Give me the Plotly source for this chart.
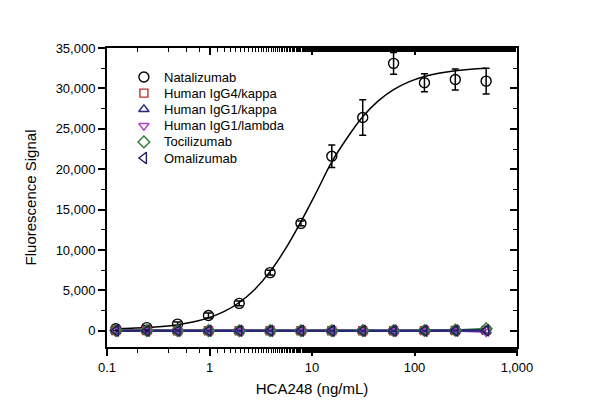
import plotly.graph_objects as go

# concentrations (ng/mL)
conc = [0.122, 0.244, 0.488, 0.977, 1.95, 3.9, 7.8, 15.6, 31.25, 62.5, 125, 250, 500]

# Natalizumab measured signal and error
nat_y = [250, 400, 830, 1900, 3400, 7200, 13300, 21600, 26400, 33100, 30700, 31100, 30900]
nat_err = [250, 250, 250, 300, 300, 300, 300, 1400, 2200, 1350, 1100, 1300, 1600]

# fitted curve
fit_x = [0.122, 0.172, 0.244, 0.345, 0.488, 0.69, 0.977, 1.38, 1.95, 2.76, 3.9, 5.5, 7.8, 11, 15.6,
         22, 31.25, 44, 62.5, 88, 125, 177, 250, 354, 500]
fit_y = [252, 310, 400, 539, 756, 1092, 1606, 2373, 3505, 5127, 7327, 10133, 13515, 17120, 20900,
         23860, 26480, 28420, 29850, 30815, 31480, 31910, 32190, 32380, 32490]

# isotype / irrelevant controls
igg4_kappa = [40, 30, 20, 20, 10, 10, 20, 20, 20, 20, 30, 40, 60]
igg1_kappa = [20, 10, 10, 10, 10, 0, 10, 10, 10, 10, 20, 20, 30]
igg1_lambda = [10, 10, 0, 10, 0, 0, 10, 0, 10, 0, 10, 0, -150]
tocilizumab = [30, 20, 20, 20, 10, 20, 20, 20, 20, 30, 40, 80, 250]
omalizumab = [20, 10, 10, 10, 10, 10, 10, 10, 10, 20, 20, 30, 60]

x_tickvals = [0.1, 1, 10, 100, 1000]
x_ticktext = ["0.1", "1", "10", "100", "1,000"]
y_tickvals = [0, 5000, 10000, 15000, 20000, 25000, 30000, 35000]

series_names = ["Natalizumab", "Human IgG4/kappa", "Human IgG1/kappa", "Human IgG1/lambda",
                "Tocilizumab", "Omalizumab"]
series_symbols = ["circle-open", "square-open", "triangle-up-open", "triangle-down-open",
                  "diamond-open", "triangle-left-open"]
series_colors = ["black", "#b8322f", "#262680", "#b040c8", "#2e7d32", "#1c1c5a"]
series_sizes = [10, 8, 9, 9, 9, 10]
control_values = [igg4_kappa, igg1_kappa, igg1_lambda, tocilizumab, omalizumab]

fig = go.Figure()

# fitted curve
fig.add_trace(go.Scatter(x=fit_x, y=fit_y, mode="lines", line=dict(color="black", width=1.5, shape="spline"),
                         showlegend=False, hoverinfo="skip"))

# control lines (navy drawn last so it dominates, as in the original)
line_order = [0, 2, 3, 4, 1]
for i in line_order:
    fig.add_trace(go.Scatter(x=conc, y=control_values[i], mode="lines",
                             line=dict(color=series_colors[i + 1], width=2),
                             showlegend=False, hoverinfo="skip"))

# Natalizumab points
fig.add_trace(go.Scatter(x=conc, y=nat_y, mode="markers", name=series_names[0], showlegend=False,
                         marker=dict(symbol=series_symbols[0], size=series_sizes[0], color="black",
                                     line=dict(width=1.4)),
                         error_y=dict(type="data", array=nat_err, color="black", thickness=1.5, width=3.5)))

for ys, name, sym, col, sz in zip(control_values, series_names[1:], series_symbols[1:],
                                  series_colors[1:], series_sizes[1:]):
    fig.add_trace(go.Scatter(x=conc, y=ys, mode="markers", name=name, showlegend=False,
                             marker=dict(symbol=sym, size=sz, color=col, line=dict(width=1.4))))

# manual legend (symbols on an invisible overlay axis, labels as annotations)
leg_x_sym = 0.090
leg_x_txt = 0.135
leg_y = [0.903, 0.849, 0.795, 0.740, 0.686, 0.632]
for name, sym, col, sz, yy in zip(series_names, series_symbols, series_colors, series_sizes, leg_y):
    fig.add_trace(go.Scatter(x=[leg_x_sym], y=[yy], xaxis="x3", yaxis="y3", mode="markers",
                             marker=dict(symbol=sym, size=sz, color=col, line=dict(width=1.4)),
                             showlegend=False, hoverinfo="skip"))
    fig.add_annotation(x=leg_x_txt, y=yy, xref="paper", yref="paper", text=name, showarrow=False,
                       xanchor="left", yanchor="middle", font=dict(size=13))

# dummy trace for mirrored inner-tick axes
fig.add_trace(go.Scatter(x=[0.1], y=[0], xaxis="x2", yaxis="y2", mode="markers",
                         marker=dict(opacity=0), showlegend=False, hoverinfo="skip"))

font_family = "Liberation Sans, Arial, sans-serif"

fig.update_layout(
    width=600, height=417,
    margin=dict(l=107, r=83, t=48, b=70),
    paper_bgcolor="white", plot_bgcolor="white",
    showlegend=False,
    font=dict(family=font_family, size=13, color="black"),
    xaxis=dict(type="log", range=[-1, 3], tickvals=x_tickvals, ticktext=x_ticktext,
               ticks="outside", ticklen=7, tickwidth=1.5, tickcolor="black",
               minor=dict(ticks="outside", ticklen=4, tickwidth=1.2, tickcolor="black", showgrid=False),
               showline=True, linecolor="black", linewidth=2, showgrid=False, zeroline=False,
               title=dict(text="HCA248 (ng/mL)", font=dict(size=15), standoff=10),
               tickfont=dict(size=13)),
    yaxis=dict(range=[-2000, 35000], tickvals=y_tickvals,
               tickformat=",d", ticks="outside", ticklen=7, tickwidth=1.5, tickcolor="black",
               minor=dict(dtick=2500, ticks="outside", ticklen=4, tickwidth=1.2, tickcolor="black", showgrid=False),
               showline=True, linecolor="black", linewidth=2, showgrid=False, zeroline=False,
               title=dict(text="Fluorescence Signal", font=dict(size=15), standoff=15),
               tickfont=dict(size=13)),
    xaxis2=dict(type="log", range=[-1, 3], overlaying="x", side="top", tickvals=x_tickvals,
                ticks="inside", ticklen=7, tickwidth=1.5, tickcolor="black", showticklabels=False,
                minor=dict(ticks="inside", ticklen=4, tickwidth=1.2, tickcolor="black", showgrid=False),
                showline=True, linecolor="black", linewidth=2, showgrid=False, zeroline=False),
    yaxis2=dict(range=[-2000, 35000], overlaying="y", side="right", tickvals=y_tickvals,
                ticks="inside", ticklen=7, tickwidth=1.5, tickcolor="black", showticklabels=False,
                minor=dict(dtick=2500, ticks="inside", ticklen=4, tickwidth=1.2, tickcolor="black", showgrid=False),
                showline=True, linecolor="black", linewidth=2, showgrid=False, zeroline=False),
    xaxis3=dict(range=[0, 1], overlaying="x", visible=False),
    yaxis3=dict(range=[0, 1], overlaying="y", visible=False),
)

fig.write_html("out.html")
